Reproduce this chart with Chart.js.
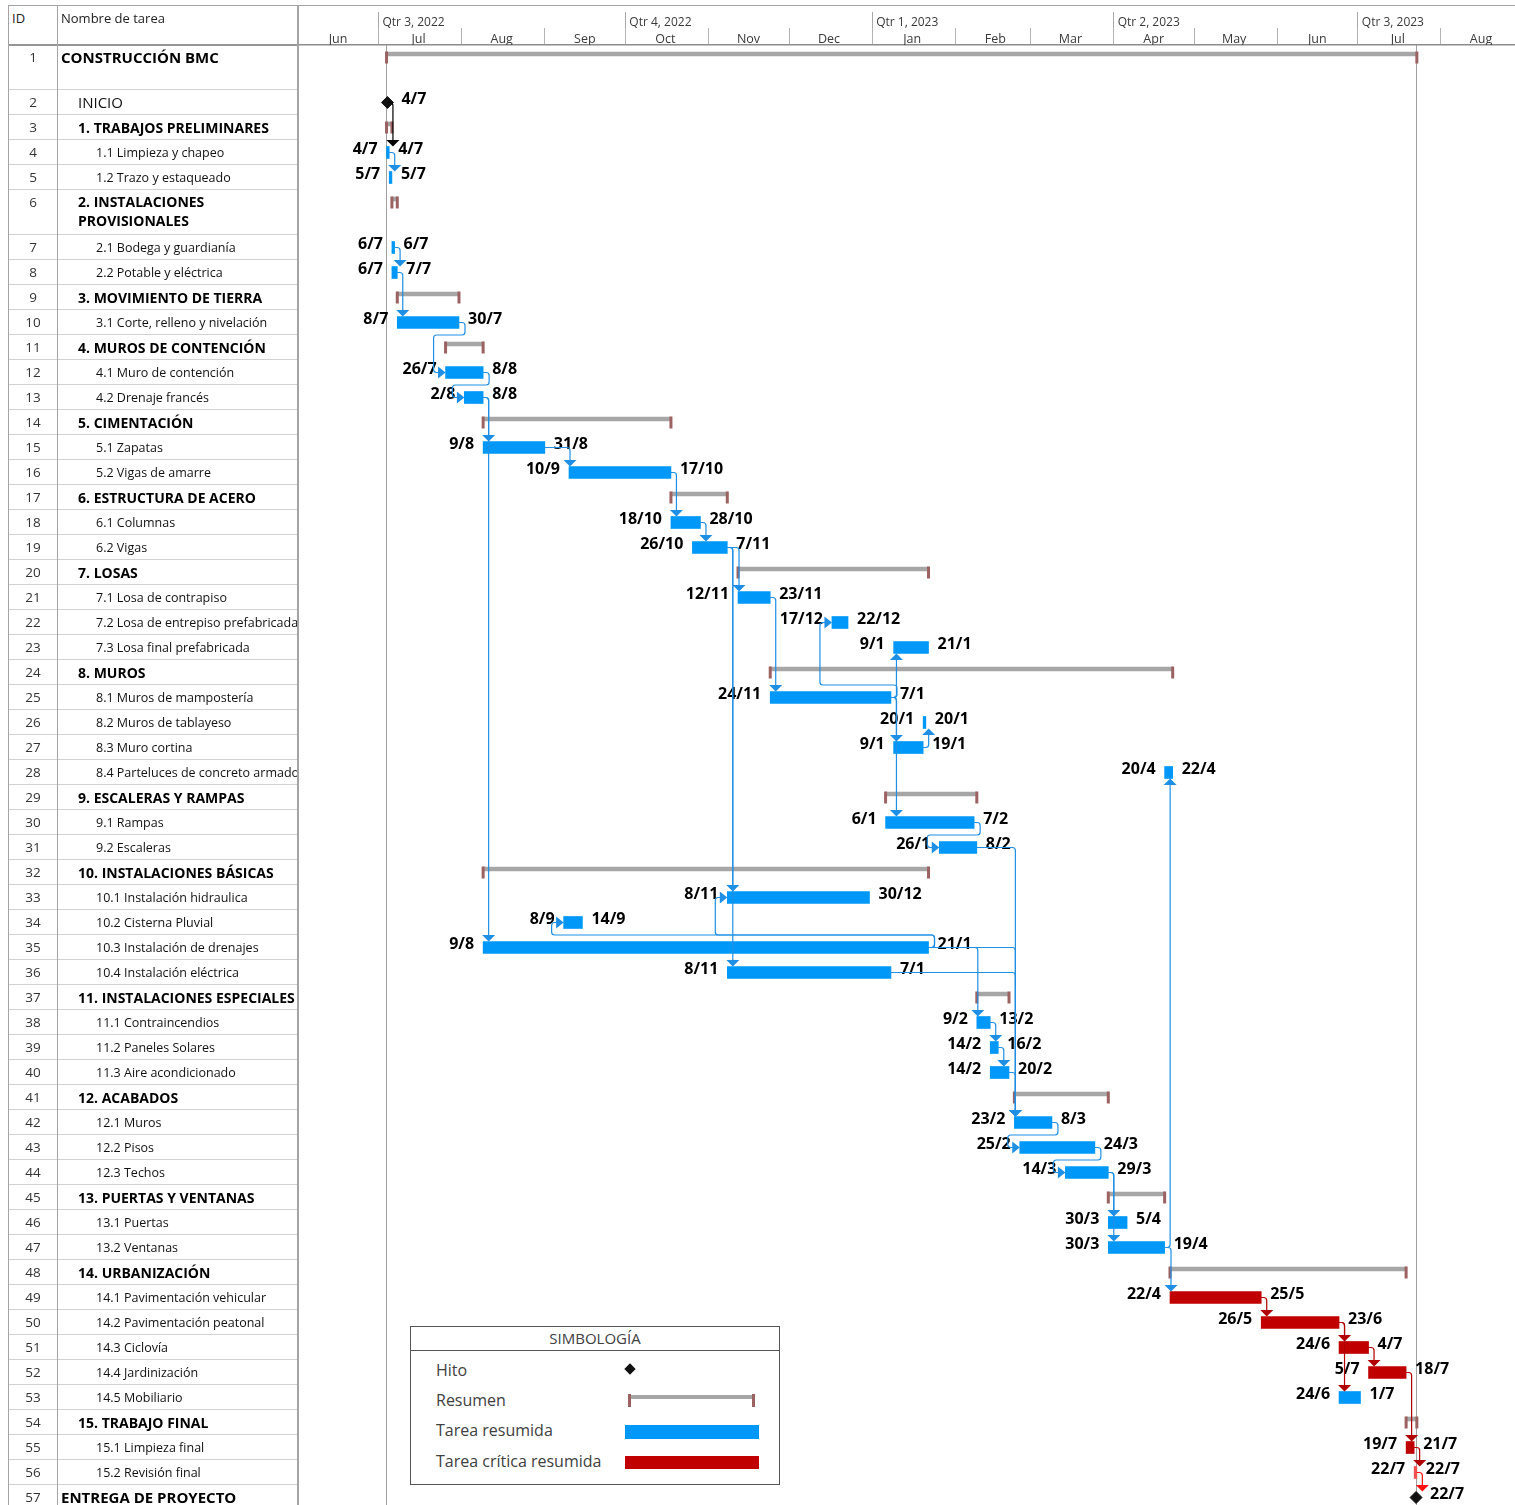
<!DOCTYPE html>
<html>
<head>
<meta charset="utf-8">
<script src="https://cdn.jsdelivr.net/npm/chart.js@4.4.1/dist/chart.umd.min.js"></script>
<style>
body { margin: 0; background: #fff; font-family: "Open Sans", sans-serif; }
#page { position: relative; width: 1515px; height: 1505px; overflow: hidden; }
#gantt { position: absolute; left: 298px; top: 0; }
.ln { position: absolute; background: #a4a4a4; }
.cell { position: absolute; box-sizing: border-box; white-space: nowrap; overflow: hidden; line-height: 25px; border-bottom: 1px solid #d2d2d2; color: #111; }
.idc { text-align: center; font-size: 13.5px; color: #333; }
.hdr { position: absolute; top: 9px; font-size: 13px; line-height: 18px; color: #222; }
#legend { position: absolute; left: 410px; top: 1326px; width: 370px; height: 159px; box-sizing: border-box; border: 1px solid #555; background: #fff; color: #404040; }
#legend .t { position: absolute; left: 0; top: 0; width: 100%; height: 23px; line-height: 23px; text-align: center; font-size: 15px; border-bottom: 1px solid #555; }
#legend .r { position: absolute; left: 25px; font-size: 16px; line-height: 20px; }
</style>
</head>
<body>
<div id="page">
  <canvas id="gantt" width="1217" height="1505"></canvas>
  <div id="table"></div>
  <div id="legend">
    <div class="t">SIMBOLOGÍA</div>
    <div class="r" style="top:33px">Hito</div>
    <div class="r" style="top:63px">Resumen</div>
    <div class="r" style="top:93px">Tarea resumida</div>
    <div class="r" style="top:124px">Tarea crítica resumida</div>
    <div style="position:absolute;left:215px;top:38px;width:8px;height:8px;background:#111;transform:rotate(45deg)"></div>
    <div style="position:absolute;left:218px;top:68px;width:125px;height:4px;background:#a6a6a6"></div>
    <div style="position:absolute;left:217px;top:67px;width:3px;height:13px;background:#9c6262"></div>
    <div style="position:absolute;left:341px;top:67px;width:3px;height:13px;background:#9c6262"></div>
    <div style="position:absolute;left:214px;top:98px;width:134px;height:14px;background:#0098f8"></div>
    <div style="position:absolute;left:214px;top:129px;width:134px;height:13px;background:#c00000"></div>
  </div>
</div>
<script>
// Task table
const taskIds = [1, 2, 3, 4, 5, 6, 7, 8, 9, 10, 11, 12, 13, 14, 15, 16, 17, 18, 19, 20,
  21, 22, 23, 24, 25, 26, 27, 28, 29, 30, 31, 32, 33, 34, 35, 36, 37, 38, 39, 40,
  41, 42, 43, 44, 45, 46, 47, 48, 49, 50, 51, 52, 53, 54, 55, 56, 57];
const taskNames = [
  'CONSTRUCCIÓN BMC', 'INICIO', '1. TRABAJOS PRELIMINARES', '1.1 Limpieza y chapeo', '1.2 Trazo y estaqueado',
  '2. INSTALACIONES PROVISIONALES', '2.1 Bodega y guardianía', '2.2 Potable y eléctrica',
  '3. MOVIMIENTO DE TIERRA', '3.1 Corte, relleno y nivelación',
  '4. MUROS DE CONTENCIÓN', '4.1 Muro de contención', '4.2 Drenaje francés',
  '5. CIMENTACIÓN', '5.1 Zapatas', '5.2 Vigas de amarre',
  '6. ESTRUCTURA DE ACERO', '6.1 Columnas', '6.2 Vigas',
  '7. LOSAS', '7.1 Losa de contrapiso', '7.2 Losa de entrepiso prefabricada', '7.3 Losa final prefabricada',
  '8. MUROS', '8.1 Muros de mampostería', '8.2 Muros de tablayeso', '8.3 Muro cortina', '8.4 Parteluces de concreto armado',
  '9. ESCALERAS Y RAMPAS', '9.1 Rampas', '9.2 Escaleras',
  '10. INSTALACIONES BÁSICAS', '10.1 Instalación hidraulica', '10.2 Cisterna Pluvial', '10.3 Instalación de drenajes', '10.4 Instalación eléctrica',
  '11. INSTALACIONES ESPECIALES', '11.1 Contraincendios', '11.2 Paneles Solares', '11.3 Aire acondicionado',
  '12. ACABADOS', '12.1 Muros', '12.2 Pisos', '12.3 Techos',
  '13. PUERTAS Y VENTANAS', '13.1 Puertas', '13.2 Ventanas',
  '14. URBANIZACIÓN', '14.1 Pavimentación vehicular', '14.2 Pavimentación peatonal', '14.3 Ciclovía', '14.4 Jardinización', '14.5 Mobiliario',
  '15. TRABAJO FINAL', '15.1 Limpieza final', '15.2 Revisión final',
  'ENTREGA DE PROYECTO'
];
// S = resumen, M = hito, T = tarea, C = tarea crítica
const taskKinds = ['S', 'M', 'S', 'T', 'T', 'S', 'T', 'T', 'S', 'T', 'S', 'T', 'T', 'S', 'T', 'T', 'S', 'T', 'T', 'S',
  'T', 'T', 'T', 'S', 'T', 'T', 'T', 'T', 'S', 'T', 'T', 'S', 'T', 'T', 'T', 'T', 'S', 'T', 'T', 'T',
  'S', 'T', 'T', 'T', 'S', 'T', 'T', 'S', 'C', 'C', 'C', 'C', 'T', 'S', 'C', 'C', 'M'];
const taskLevels = [0, 1, 1, 2, 2, 1, 2, 2, 1, 2, 1, 2, 2, 1, 2, 2, 1, 2, 2, 1,
  2, 2, 2, 1, 2, 2, 2, 2, 1, 2, 2, 1, 2, 2, 2, 2, 1, 2, 2, 2,
  1, 2, 2, 2, 1, 2, 2, 1, 2, 2, 2, 2, 2, 1, 2, 2, 0];
const taskStarts = ['2022-07-04', '2022-07-04T08:00', '2022-07-04', '2022-07-04', '2022-07-05',
  '2022-07-06', '2022-07-06', '2022-07-06', '2022-07-08', '2022-07-08',
  '2022-07-26', '2022-07-26', '2022-08-02', '2022-08-09', '2022-08-09', '2022-09-10',
  '2022-10-18', '2022-10-18', '2022-10-26', '2022-11-12', '2022-11-12', '2022-12-17', '2023-01-09',
  '2022-11-24', '2022-11-24', '2023-01-20', '2023-01-09', '2023-04-20',
  '2023-01-06', '2023-01-06', '2023-01-26',
  '2022-08-09', '2022-11-08', '2022-09-08', '2022-08-09', '2022-11-08',
  '2023-02-09', '2023-02-09', '2023-02-14', '2023-02-14',
  '2023-02-23', '2023-02-23', '2023-02-25', '2023-03-14',
  '2023-03-30', '2023-03-30', '2023-03-30',
  '2023-04-22', '2023-04-22', '2023-05-26', '2023-06-24', '2023-07-05', '2023-06-24',
  '2023-07-19', '2023-07-19', '2023-07-22', '2023-07-22T17:00'];
const taskEnds = ['2023-07-22', '2022-07-04T08:00', '2022-07-05', '2022-07-04', '2022-07-05',
  '2022-07-07', '2022-07-06', '2022-07-07', '2022-07-30', '2022-07-30',
  '2022-08-08', '2022-08-08', '2022-08-08', '2022-10-17', '2022-08-31', '2022-10-17',
  '2022-11-07', '2022-10-28', '2022-11-07', '2023-01-21', '2022-11-23', '2022-12-22', '2023-01-21',
  '2023-04-22', '2023-01-07', '2023-01-20', '2023-01-19', '2023-04-22',
  '2023-02-08', '2023-02-07', '2023-02-08',
  '2023-01-21', '2022-12-30', '2022-09-14', '2023-01-21', '2023-01-07',
  '2023-02-20', '2023-02-13', '2023-02-16', '2023-02-20',
  '2023-03-29', '2023-03-08', '2023-03-24', '2023-03-29',
  '2023-04-19', '2023-04-05', '2023-04-19',
  '2023-07-18', '2023-05-25', '2023-06-23', '2023-07-04', '2023-07-18', '2023-07-01',
  '2023-07-22', '2023-07-21', '2023-07-22', '2023-07-22T17:00'];

// predecessor, successor, route (v = vertical drop, s = step back)
const links = [
  [2, 4, 'v'], [4, 5, 'v'], [7, 8, 'v'], [8, 10, 'v'], [10, 12, 's'], [12, 13, 's'],
  [13, 15, 'v'], [13, 35, 'v'], [15, 16, 'v'], [16, 18, 'v'], [18, 19, 'v'],
  [19, 21, 'v'], [19, 33, 'v'], [19, 36, 'v'], [21, 25, 'v'],
  [25, 22, 's'], [25, 23, 'v'], [25, 27, 'v'], [25, 30, 'v'], [27, 26, 'v'], [30, 31, 's'],
  [31, 42, 'v'], [35, 33, 's'], [35, 34, 's'], [35, 38, 'v'], [35, 42, 'v'], [36, 42, 'v'],
  [38, 39, 'v'], [39, 40, 'v'], [40, 42, 'v'], [42, 43, 's'], [43, 44, 's'],
  [44, 46, 'v'], [44, 47, 'v'], [47, 28, 'v'], [47, 49, 'v'],
  [49, 50, 'v'], [50, 51, 'v'], [50, 53, 'v'], [51, 52, 'v'], [52, 55, 'v'], [55, 56, 'v'], [56, 57, 'v']
];

const monthStarts = ['2022-06-01', '2022-07-01', '2022-08-01', '2022-09-01', '2022-10-01', '2022-11-01', '2022-12-01',
  '2023-01-01', '2023-02-01', '2023-03-01', '2023-04-01', '2023-05-01', '2023-06-01', '2023-07-01', '2023-08-01'];
const monthLabels = ['Jun', 'Jul', 'Aug', 'Sep', 'Oct', 'Nov', 'Dec', 'Jan', 'Feb', 'Mar', 'Apr', 'May', 'Jun', 'Jul', 'Aug'];
const quarterStarts = ['2022-07-01', '2022-10-01', '2023-01-01', '2023-04-01', '2023-07-01'];
const quarterLabels = ['Qtr 3, 2022', 'Qtr 4, 2022', 'Qtr 1, 2023', 'Qtr 2, 2023', 'Qtr 3, 2023'];
const axisFrom = '2022-06-01';
const axisTo = '2023-08-28T14:00';

// layout of the rows (two rows are taller)
const tallRows = [1, 6];
const lightCriticalIds = [56];
const BLUE = '#0098f8', RED = '#c00000', GREY = '#a6a6a6', CAP = '#9c6262';

function dayOf(s) {
  const [d, t] = s.split('T');
  const [y, m, dd] = d.split('-').map(Number);
  const [hh, mm] = (t || '00:00').split(':').map(Number);
  return (Date.UTC(y, m - 1, dd, hh, mm) - Date.UTC(2022, 5, 1)) / 86400000;
}
function dm(s) {
  const [y, m, d] = s.split('T')[0].split('-').map(Number);
  return d + '/' + m;
}
const rowUnits = taskIds.map(id => tallRows.includes(id) ? 1.8 : 1);
const rowTop = [];
rowUnits.reduce((acc, u, i) => { rowTop[i] = acc; return acc + u; }, 0);
const rowMid = i => rowTop[i] + 0.5;
const idx = id => taskIds.indexOf(id);
const barStart = i => dayOf(taskStarts[i]);
const barEnd = i => taskKinds[i] === 'M' ? dayOf(taskEnds[i]) : dayOf(taskEnds[i]) + 1;

const summaryData = [], blueData = [], redData = [], mileData = [];
taskIds.forEach((id, i) => {
  const k = taskKinds[i];
  if (k === 'S') summaryData.push({ id, y: rowMid(i) - 0.14, x: [barStart(i), barEnd(i)] });
  else if (k === 'T') blueData.push({ id, y: rowMid(i), x: [barStart(i), barEnd(i)] });
  else if (k === 'C') redData.push({ id, y: rowMid(i), x: [barStart(i), barEnd(i)] });
  else mileData.push({ id, y: rowMid(i), x: barStart(i) });
});

function roundedPath(ctx, pts, r) {
  ctx.beginPath();
  ctx.moveTo(pts[0][0], pts[0][1]);
  for (let i = 1; i < pts.length - 1; i++) ctx.arcTo(pts[i][0], pts[i][1], pts[i + 1][0], pts[i + 1][1], r);
  ctx.lineTo(pts[pts.length - 1][0], pts[pts.length - 1][1]);
  ctx.stroke();
}
function tri(ctx, a, b, c) {
  ctx.beginPath(); ctx.moveTo(a[0], a[1]); ctx.lineTo(b[0], b[1]); ctx.lineTo(c[0], c[1]); ctx.closePath(); ctx.fill();
}
function linkColor(i) {
  if (taskKinds[i] === 'M') return '#000';
  if (lightCriticalIds.includes(taskIds[i])) return '#ff1010';
  if (taskKinds[i] === 'C') return '#b00000';
  return '#1f8fe5';
}

const ganttDecor = {
  id: 'ganttDecor',
  beforeDatasetsDraw(chart) {
    const { ctx, chartArea, scales: { x } } = chart;
    ctx.save();
    ctx.strokeStyle = '#a0a0a0';
    ctx.lineWidth = 1;
    [barStart(0), barEnd(0)].forEach(v => {
      const px = Math.round(x.getPixelForValue(v)) - 0.5;
      ctx.beginPath(); ctx.moveTo(px, chartArea.top); ctx.lineTo(px, chartArea.bottom); ctx.stroke();
    });
    ctx.restore();
  },
  afterDatasetsDraw(chart) {
    const { ctx, scales: { x, y } } = chart;
    ctx.save();
    // summary end tabs
    ctx.fillStyle = CAP;
    taskIds.forEach((id, i) => {
      if (taskKinds[i] !== 'S') return;
      const yc = y.getPixelForValue(rowMid(i));
      ctx.fillRect(x.getPixelForValue(barStart(i)) - 1.5, yc - 6, 3, 12);
      ctx.fillRect(x.getPixelForValue(barEnd(i)) - 1.5, yc - 6, 3, 12);
    });
    // date labels
    ctx.font = 'bold 16px "Open Sans"';
    ctx.fillStyle = '#000';
    ctx.textBaseline = 'middle';
    taskIds.forEach((id, i) => {
      const k = taskKinds[i];
      if (k === 'S') return;
      const yc = y.getPixelForValue(rowMid(i)) - 3.5;
      if (k === 'M') {
        ctx.textAlign = 'left';
        ctx.fillText(dm(taskEnds[i]), x.getPixelForValue(barStart(i)) + 14, yc);
        return;
      }
      ctx.textAlign = 'right';
      ctx.fillText(dm(taskStarts[i]), x.getPixelForValue(barStart(i)) - 9, yc);
      ctx.textAlign = 'left';
      ctx.fillText(dm(taskEnds[i]), x.getPixelForValue(barEnd(i)) + 9, yc);
    });
    // dependency links
    ctx.lineWidth = 1.2;
    links.forEach(([a, b, route]) => {
      const p = idx(a), s = idx(b);
      const col = linkColor(p);
      ctx.strokeStyle = col; ctx.fillStyle = col;
      const pe = x.getPixelForValue(barEnd(p));
      const py = y.getPixelForValue(rowMid(p));
      const ss = x.getPixelForValue(barStart(s));
      const sy = y.getPixelForValue(rowMid(s));
      const dir = sy > py ? 1 : -1;
      if (route === 'v') {
        const ax = Math.max(ss + 1, pe + 5.5);
        const tipY = sy - dir * 6;
        const baseY = tipY - dir * 6.5;
        roundedPath(ctx, [[pe, py], [ax, py], [ax, baseY]], 3);
        tri(ctx, [ax - 6.5, baseY], [ax + 6.5, baseY], [ax, tipY]);
      } else {
        const gy = y.getPixelForValue(dir > 0 ? rowTop[p] + rowUnits[p] : rowTop[p]);
        const vx = ss - 12;
        roundedPath(ctx, [[pe, py], [pe + 6, py], [pe + 6, gy], [vx, gy], [vx, sy], [ss - 7, sy]], 3);
        tri(ctx, [ss - 7.5, sy - 6], [ss - 7.5, sy + 6], [ss, sy]);
      }
    });
    ctx.restore();
  }
};

const chart = new Chart(document.getElementById('gantt'), {
  type: 'bar',
  data: {
    datasets: [
      {
        label: 'Hito', type: 'scatter', data: mileData, xAxisID: 'x', yAxisID: 'y',
        pointStyle: 'rectRot', pointRadius: 6, backgroundColor: '#111', borderColor: '#111', borderWidth: 1
      },
      {
        label: 'Tarea crítica resumida', indexAxis: 'y', grouped: false, data: redData, xAxisID: 'x', yAxisID: 'y',
        barThickness: 12, maxBarThickness: 12, borderWidth: 0,
        backgroundColor: c => (c.raw && lightCriticalIds.includes(c.raw.id)) ? '#f25050' : RED
      },
      {
        label: 'Tarea resumida', indexAxis: 'y', grouped: false, data: blueData, xAxisID: 'x', yAxisID: 'y',
        barThickness: 12, maxBarThickness: 12, borderWidth: 0, backgroundColor: BLUE
      },
      {
        label: 'Resumen', indexAxis: 'y', grouped: false, data: summaryData, xAxisID: 'x', yAxisID: 'y',
        barThickness: 4, maxBarThickness: 4, borderWidth: 0, backgroundColor: GREY
      }
    ]
  },
  options: {
    responsive: false,
    animation: false,
    events: [],
    indexAxis: 'y',
    layout: { autoPadding: false, padding: { top: 5, left: 0, right: 0, bottom: 0 } },
    plugins: { legend: { display: false }, tooltip: { enabled: false } },
    scales: {
      x: {
        type: 'linear', position: 'top', bounds: 'data', offset: false, min: dayOf(axisFrom), max: dayOf(axisTo), weight: 0,
        afterBuildTicks: a => { a.ticks = monthStarts.map(d => ({ value: dayOf(d) })); },
        afterFit: a => { a.height = 17; a.paddingLeft = 0; a.paddingRight = 0; },
        ticks: {
          autoSkip: false, maxRotation: 0, minRotation: 0, labelOffset: 40, padding: -19,
          color: '#3a3a3a', font: { family: 'Open Sans', size: 12.5 },
          callback: (v, i) => monthLabels[i]
        },
        grid: { drawOnChartArea: false, drawTicks: true, tickLength: 17, color: '#b4b4b4', offset: false },
        border: { display: true, color: '#8c8c8c', width: 1.5 }
      },
      xq: {
        type: 'linear', axis: 'x', position: 'top', bounds: 'data', offset: false, min: dayOf(axisFrom), max: dayOf(axisTo), weight: 1,
        afterBuildTicks: a => { a.ticks = quarterStarts.map(d => ({ value: dayOf(d) })); },
        afterFit: a => { a.height = 23; a.paddingLeft = 0; a.paddingRight = 0; },
        ticks: {
          autoSkip: false, maxRotation: 0, minRotation: 0, align: 'start', labelOffset: 4, padding: -18,
          color: '#3a3a3a', font: { family: 'Open Sans', size: 12 },
          callback: (v, i) => quarterLabels[i]
        },
        grid: { drawOnChartArea: false, drawTicks: true, tickLength: 16, color: '#a8a8a8', offset: false },
        border: { display: false }
      },
      y: {
        type: 'linear', display: false, reverse: true, offset: false, min: 0, max: 58.4,
        grid: { offset: false }
      }
    }
  },
  plugins: [ganttDecor]
});

// left table, rows placed with the chart's own y scale
const yScale = chart.scales.y;
let html = '';
html += '<div class="ln" style="left:8px;top:5px;width:1507px;height:1px"></div>';
html += '<div class="ln" style="left:8px;top:44px;width:290px;height:2px;background:#959595"></div>';
html += '<div class="ln" style="left:8px;top:5px;width:1px;height:1500px"></div>';
html += '<div class="ln" style="left:57px;top:5px;width:1px;height:1500px"></div>';
html += '<div class="ln" style="left:297px;top:5px;width:2px;height:1500px"></div>';
html += '<div class="hdr" style="left:12px">ID</div><div class="hdr" style="left:61px">Nombre de tarea</div>';
taskIds.forEach((id, i) => {
  const top = yScale.getPixelForValue(rowTop[i]);
  const h = yScale.getPixelForValue(rowTop[i] + rowUnits[i]) - top;
  const lvl = taskLevels[i], k = taskKinds[i];
  let left = 96, font = 'font-size:12.5px;';
  if (lvl === 0) { left = 61; font = 'font-size:15px;font-weight:700;color:#000;'; }
  else if (k === 'M') { left = 78; font = 'font-size:15px;'; }
  else if (lvl === 1) { left = 78; font = 'font-size:14px;font-weight:700;color:#000;'; }
  const wrap = id === 6 ? 'white-space:normal;line-height:19px;padding-top:2px;' : '';
  html += `<div class="cell idc" style="left:9px;top:${top}px;width:48px;height:${h}px">${id}</div>`;
  html += `<div class="cell" style="left:58px;top:${top}px;width:239px;height:${h}px;padding-left:${left - 58}px;${font}${wrap}">${taskNames[i]}</div>`;
});
document.getElementById('table').innerHTML = html;
</script>
</body>
</html>
